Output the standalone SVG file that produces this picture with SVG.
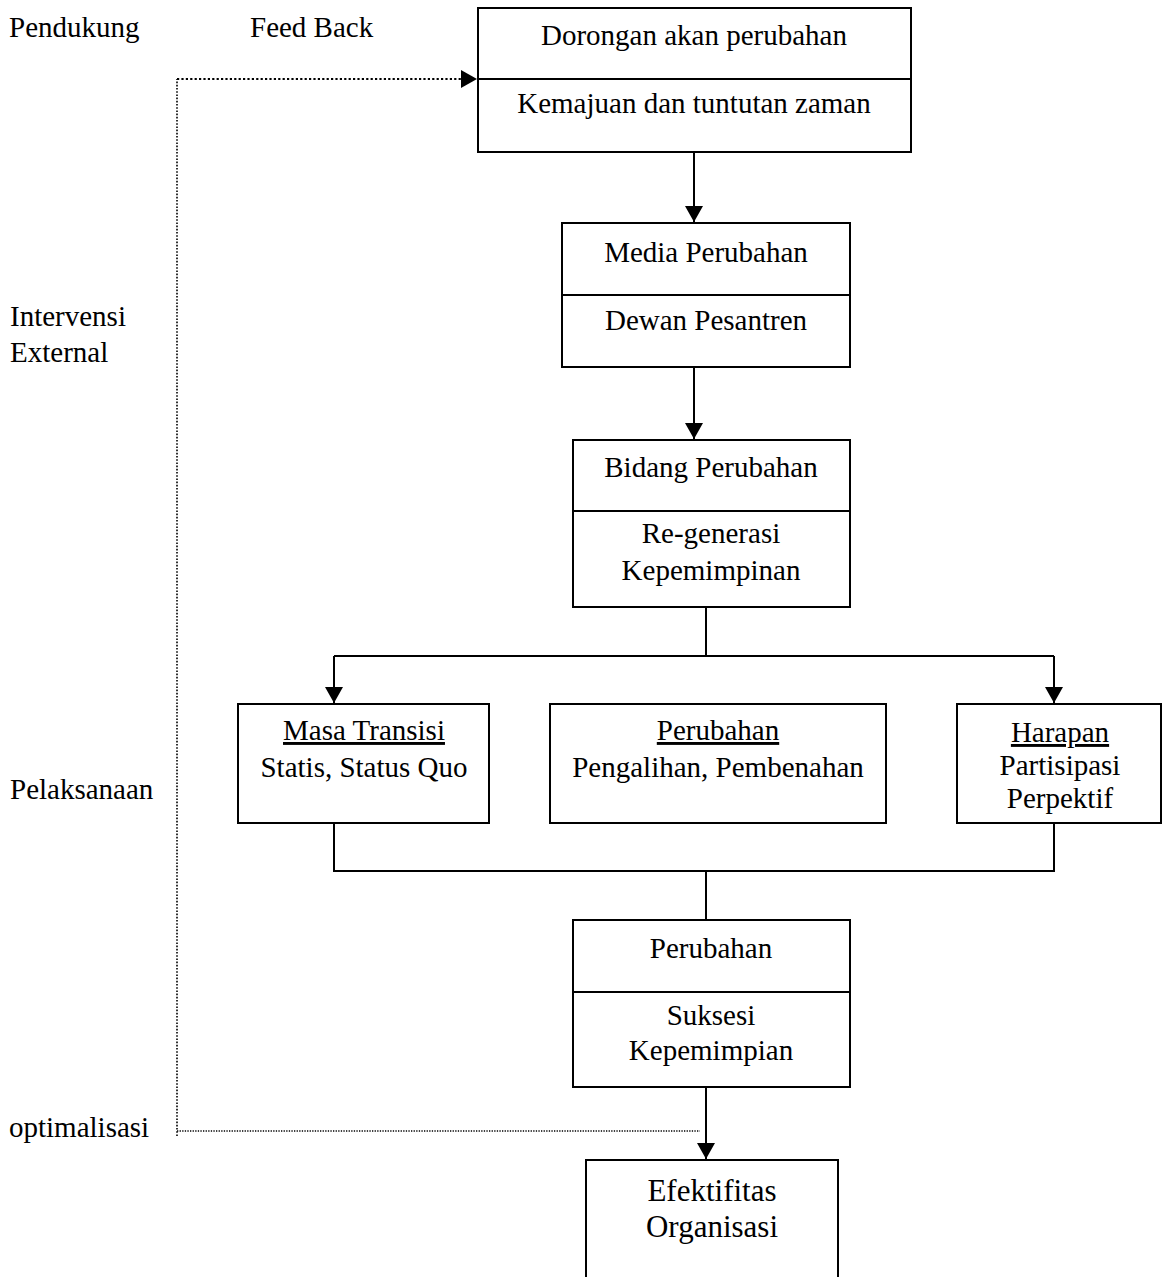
<svg xmlns="http://www.w3.org/2000/svg" width="1168" height="1277" viewBox="0 0 1168 1277">
<style>
text{font-family:"Liberation Serif","Times New Roman",serif;font-size:29px;fill:#000}
.c{text-anchor:middle}
.big{font-size:31px}
.box{fill:#fff;stroke:#000;stroke-width:2}
.ln{fill:none;stroke:#000;stroke-width:2}
.u{text-decoration:underline}
</style>
<defs>
<marker id="ah" viewBox="0 0 16 18" refX="16" refY="9" markerWidth="16" markerHeight="18" markerUnits="userSpaceOnUse" orient="auto">
<path d="M0,0 L16,9 L0,18 Z" fill="#000"/>
</marker>
</defs>
<rect width="1168" height="1277" fill="#fff"/>
<g id="labels">
<text x="9" y="37">Pendukung</text>
<text x="250" y="37">Feed Back</text>
<text x="10" y="326">Intervensi</text>
<text x="10" y="362">External</text>
<text x="10" y="799">Pelaksanaan</text>
<text x="9" y="1137">optimalisasi</text>
</g>
<g id="connectors">
<path class="ln" d="M694,152 V222" marker-end="url(#ah)"/>
<path class="ln" d="M694,367 V439" marker-end="url(#ah)"/>
<path class="ln" d="M706,607 V656 M334,656 H1054"/>
<path class="ln" d="M334,656 V703" marker-end="url(#ah)"/>
<path class="ln" d="M1054,656 V703" marker-end="url(#ah)"/>
<path class="ln" d="M334,823 V871 H1054 V823 M706,871 V920"/>
<path class="ln" d="M706,1087 V1159" marker-end="url(#ah)"/>
<path fill="none" stroke="#000" stroke-width="1.6" stroke-dasharray="1.6 1.6" d="M177,1136 V79"/>
<path fill="none" stroke="#000" stroke-width="1.3" stroke-dasharray="1.3 1.3" d="M177,1131 H700"/>
<path fill="none" stroke="#000" stroke-width="2.2" stroke-dasharray="2.2 2.2" d="M177,79 H462"/>
<path d="M461,70 L477,79 L461,88 Z" fill="#000"/>
</g>
<g id="n1">
<rect class="box" x="478" y="8" width="433" height="144"/>
<line class="ln" x1="478" y1="79" x2="911" y2="79"/>
<text class="c" x="694" y="45">Dorongan akan perubahan</text>
<text class="c" x="694" y="113">Kemajuan dan tuntutan zaman</text>
</g>
<g id="n2">
<rect class="box" x="562" y="223" width="288" height="144"/>
<line class="ln" x1="562" y1="295" x2="850" y2="295"/>
<text class="c" x="706" y="262">Media Perubahan</text>
<text class="c" x="706" y="330">Dewan Pesantren</text>
</g>
<g id="n3">
<rect class="box" x="573" y="440" width="277" height="167"/>
<line class="ln" x1="573" y1="511" x2="850" y2="511"/>
<text class="c" x="711" y="477">Bidang Perubahan</text>
<text class="c" x="711" y="543">Re-generasi</text>
<text class="c" x="711" y="580">Kepemimpinan</text>
</g>
<g id="n4">
<rect class="box" x="238" y="704" width="251" height="119"/>
<text class="c u" x="364" y="740">Masa Transisi</text>
<text class="c" x="364" y="777">Statis, Status Quo</text>
</g>
<g id="n5">
<rect class="box" x="550" y="704" width="336" height="119"/>
<text class="c u" x="718" y="740">Perubahan</text>
<text class="c" x="718" y="777">Pengalihan, Pembenahan</text>
</g>
<g id="n6">
<rect class="box" x="957" y="704" width="204" height="119"/>
<text class="c u" x="1060" y="742">Harapan</text>
<text class="c" x="1060" y="775">Partisipasi</text>
<text class="c" x="1060" y="808">Perpektif</text>
</g>
<g id="n7">
<rect class="box" x="573" y="920" width="277" height="167"/>
<line class="ln" x1="573" y1="992" x2="850" y2="992"/>
<text class="c" x="711" y="958">Perubahan</text>
<text class="c" x="711" y="1025">Suksesi</text>
<text class="c" x="711" y="1060">Kepemimpian</text>
</g>
<g id="n8">
<path class="ln" d="M586,1278 V1160 H838 V1278"/>
<text class="big c" x="712" y="1201">Efektifitas</text>
<text class="big c" x="712" y="1237">Organisasi</text>
</g>
</svg>
